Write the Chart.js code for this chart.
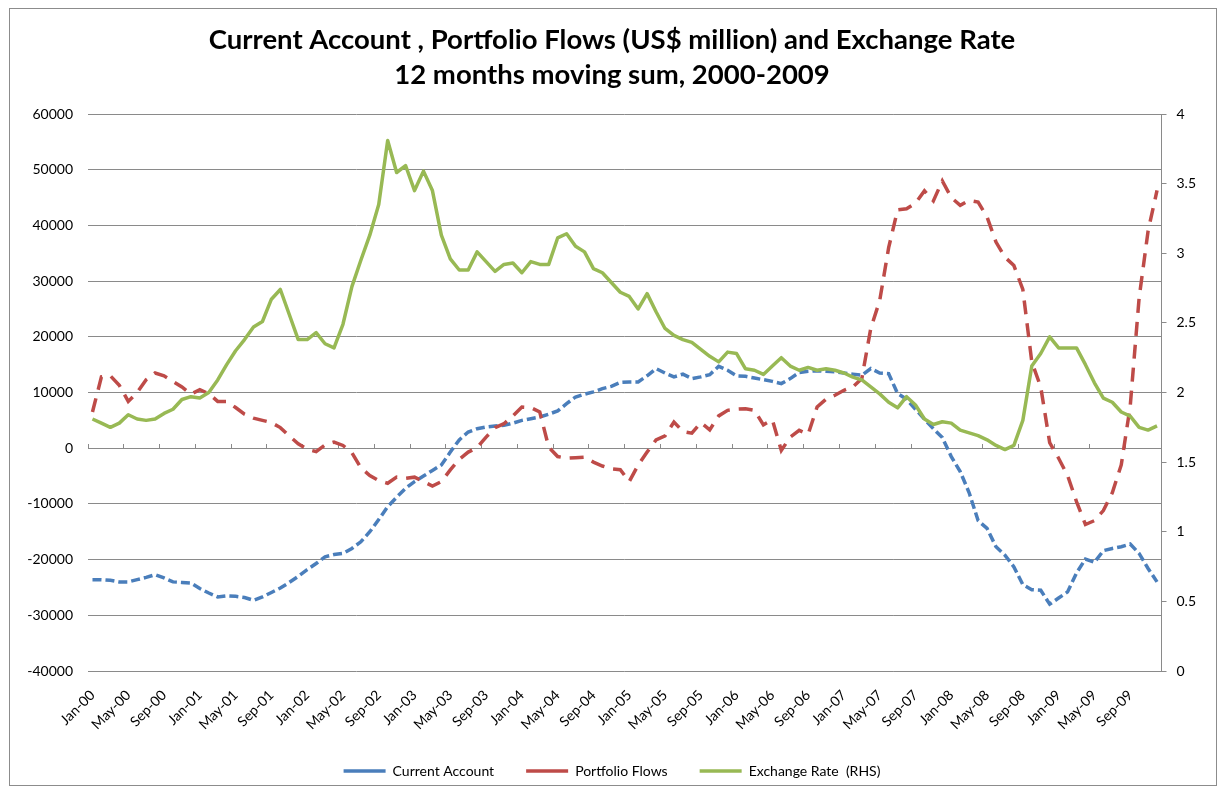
<!DOCTYPE html>
<html>
<head>
<meta charset="utf-8">
<title>Current Account, Portfolio Flows and Exchange Rate</title>
<script src="https://cdn.jsdelivr.net/npm/chart.js@4.4.0/dist/chart.umd.min.js"></script>
<style>
  html, body { margin: 0; padding: 0; background: #fff; }
  #wrap { position: relative; width: 1224px; height: 789px; }
  #frame { position: absolute; left: 9px; top: 8px; width: 1206px; height: 776px; border: 1px solid #8c8c8c; pointer-events: none; }
</style>
</head>
<body>
<div id="wrap">
  <canvas id="chart" width="1224" height="789"></canvas>
  <div id="frame"></div>
</div>
<script>
// Categories: monthly, Jan-00 .. Dec-09
const monthNames = ["Jan", "Feb", "Mar", "Apr", "May", "Jun", "Jul", "Aug", "Sep", "Oct", "Nov", "Dec"];
const monthLabels = [];
for (let y = 0; y <= 9; y++) {
  monthNames.forEach((m) => monthLabels.push(m + "-0" + y));
}

// US$ million, 12 months moving sum (one row per year)
const currentAccount = [
  -23600, -23600, -23700, -24000, -24000, -23600, -23200, -22700, -23300, -24000, -24100, -24200,
  -25200, -26000, -26700, -26500, -26600, -26800, -27300, -26700, -25900, -25100, -24100, -23000,
  -21800, -20700, -19500, -19100, -18900, -18000, -16800, -15000, -12800, -10500, -8800, -7200,
  -6000, -5000, -4000, -3000, -700, 1500, 2900, 3500, 3800, 4000, 4100, 4500,
  5000, 5300, 5600, 6100, 6700, 8000, 9200, 9700, 10100, 10700, 11100, 11800,
  11900, 11900, 13000, 14300, 13500, 12800, 13300, 12500, 12800, 13200, 14700, 14000,
  13000, 12900, 12600, 12300, 12000, 11600, 12500, 13600, 13800, 13900, 13800, 13700,
  13500, 13300, 13100, 14300, 13500, 13400, 9800, 8800, 7000, 5200, 3500, 1900,
  -1500, -4200, -8000, -13000, -14400, -17700, -19200, -21300, -24500, -25400, -25500, -28000,
  -26900, -25800, -22400, -19900, -20500, -18400, -18000, -17700, -17200, -18900, -21600, -24000
];

const portfolioFlows = [
  6500, 12800, 13000, 11300, 8400, 10000, 12300, 13500, 13000, 12000, 11000, 9700,
  10500, 9800, 8400, 8400, 7300, 6100, 5400, 5000, 4600, 3700, 2200, 800,
  -200, -600, 600, 1100, 500, -800, -3500, -4900, -5800, -6300, -5200, -5400,
  -5200, -6000, -6800, -6000, -3900, -2000, -700, 100, 2000, 3700, 4400, 5800,
  7400, 7300, 6500, 200, -1500, -1800, -1700, -1600, -2500, -3200, -3700, -3850,
  -6000, -3000, -700, 1500, 2200, 4700, 3000, 2700, 4600, 3300, 5800, 6800,
  7000, 7100, 6800, 4200, 5100, -400, 2000, 3200, 2500, 7400, 8800, 9500,
  10400, 11000, 12500, 21500, 26500, 36000, 42800, 43000, 44000, 46200, 44400, 48000,
  45000, 43600, 44500, 44200, 41500, 37000, 34300, 32800, 28500, 15500, 11000, 1000,
  -1800, -4900, -9600, -13700, -13000, -11200, -8000, -3000, 7500, 27000, 39000, 46300
];

// Exchange rate, right hand scale
const exchangeRate = [
  1.81, 1.78, 1.75, 1.78, 1.84, 1.81, 1.80, 1.81, 1.85, 1.88, 1.95, 1.97,
  1.96, 2.00, 2.09, 2.20, 2.30, 2.38, 2.47, 2.51, 2.67, 2.74, 2.56, 2.38,
  2.38, 2.43, 2.35, 2.32, 2.49, 2.76, 2.95, 3.13, 3.35, 3.81, 3.58, 3.63,
  3.45, 3.59, 3.45, 3.13, 2.96, 2.88, 2.88, 3.01, 2.94, 2.87, 2.92, 2.93,
  2.86, 2.94, 2.92, 2.92, 3.11, 3.14, 3.05, 3.01, 2.89, 2.86, 2.79, 2.72,
  2.69, 2.60, 2.71, 2.58, 2.46, 2.41, 2.38, 2.36, 2.31, 2.26, 2.22, 2.29,
  2.28, 2.17, 2.16, 2.13, 2.19, 2.25, 2.19, 2.16, 2.18, 2.16, 2.17, 2.16,
  2.14, 2.11, 2.09, 2.04, 1.99, 1.93, 1.89, 1.97, 1.91, 1.81, 1.77, 1.79,
  1.78, 1.73, 1.71, 1.69, 1.66, 1.62, 1.59, 1.62, 1.80, 2.19, 2.28, 2.40,
  2.32, 2.32, 2.32, 2.20, 2.07, 1.96, 1.93, 1.86, 1.83, 1.75, 1.73, 1.76
];

const titleLines = [
  "Current Account , Portfolio Flows (US$ million) and Exchange Rate",
  "12 months moving sum, 2000-2009"
];

const gridColor = "#8a8a8a";
const fontFamily = "Lato, 'Open Sans', sans-serif";

// legend sits lower than chart.js would put it on its own
const legendHeight = {
  id: "legendHeight",
  afterInit(chart) {
    const fit = chart.legend.fit;
    chart.legend.fit = function () {
      fit.call(this);
      this.height = 57;
    };
  }
};

new Chart(document.getElementById("chart"), {
  type: "line",
  data: {
    labels: monthLabels,
    datasets: [
      {
        label: "Current Account",
        data: currentAccount,
        yAxisID: "y",
        borderColor: "#4a7ebb",
        borderWidth: 3.5,
        borderDash: [9, 4],
        pointRadius: 0,
        tension: 0,
        order: 3
      },
      {
        label: "Portfolio Flows",
        data: portfolioFlows,
        yAxisID: "y",
        borderColor: "#be4b48",
        borderWidth: 3.5,
        borderDash: [14, 9],
        pointRadius: 0,
        tension: 0,
        order: 2
      },
      {
        label: "Exchange Rate  (RHS)",
        data: exchangeRate,
        yAxisID: "y1",
        borderColor: "#98b954",
        borderWidth: 3.5,
        borderJoinStyle: "round",
        pointRadius: 0,
        tension: 0,
        order: 1
      }
    ]
  },
  options: {
    responsive: false,
    animation: false,
    layout: { padding: 0 },
    plugins: {
      tooltip: { enabled: false },
      title: {
        display: true,
        text: titleLines,
        color: "#000",
        font: { family: fontFamily, size: 27.5, weight: "bold", lineHeight: 1.273 },
        padding: { top: 23, bottom: 21 }
      },
      legend: {
        position: "bottom",
        labels: {
          usePointStyle: true,
          pointStyle: "line",
          pointStyleWidth: 42,
          padding: 32,
          color: "#000",
          font: { family: fontFamily, size: 14 },
          sort: (a, b) => a.datasetIndex - b.datasetIndex
        }
      }
    },
    scales: {
      x: {
        position: "bottom",
        offset: true,
        grid: { display: false },
        border: { display: false },
        ticks: {
          autoSkip: false,
          minRotation: 45,
          maxRotation: 45,
          padding: 8,
          color: "#000",
          font: { family: fontFamily, size: 14 },
          callback: function (value, index) {
            return index % 4 === 0 ? this.getLabelForValue(value) : "";
          }
        },
        afterFit: (s) => {
          s.height = s.chart.height - s.chart.legend.height - 671;
        }
      },
      x0: {
        axis: "x",
        type: "category",
        position: { y: 0 },
        offset: true,
        grid: {
          offset: true,
          drawOnChartArea: false,
          tickLength: -5,
          tickColor: (ctx) => (ctx.index % 4 === 0 ? gridColor : "rgba(0,0,0,0)")
        },
        border: { display: true, color: gridColor, width: 1 },
        ticks: { display: false, autoSkip: false }
      },
      y: {
        position: "left",
        min: -40000,
        max: 60000,
        ticks: {
          stepSize: 10000,
          padding: 15,
          color: "#000",
          font: { family: fontFamily, size: 14 },
          callback: (v) => String(v)
        },
        grid: { color: gridColor, drawTicks: false },
        border: { display: false },
        afterFit: (s) => { s.width = 88; }
      },
      y1: {
        position: "right",
        min: 0,
        max: 4,
        ticks: {
          stepSize: 0.5,
          padding: 10,
          color: "#000",
          font: { family: fontFamily, size: 14 },
          callback: (v) => String(v)
        },
        grid: { drawOnChartArea: false, tickLength: 5, tickColor: gridColor },
        border: { display: true, color: gridColor },
        afterFit: (s) => { s.width = 62.5; }
      }
    }
  },
  plugins: [legendHeight]
});
</script>
</body>
</html>
